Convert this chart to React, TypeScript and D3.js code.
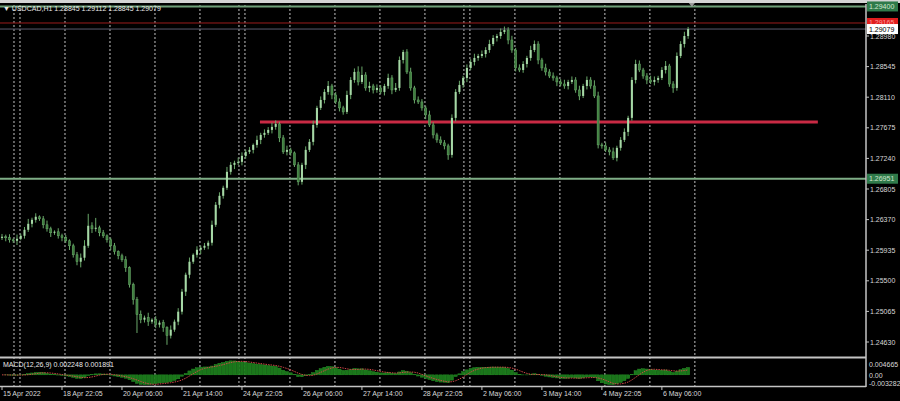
import React from "react";
import * as d3 from "d3";

// ---- data (USDCAD, bars sampled every 2 hours) ----
const closes = [
  1.26126, 1.26112, 1.26083, 1.26069, 1.26097, 1.2614, 1.26225, 1.2631, 1.26367, 1.2641,
  1.26381, 1.26296, 1.26239, 1.26183, 1.26197, 1.2614, 1.26112, 1.26069, 1.25998, 1.2587,
  1.25771, 1.25828, 1.25998, 1.26282, 1.26239, 1.26254, 1.26183, 1.2614, 1.26083, 1.25998,
  1.25913, 1.25856, 1.25799, 1.25686, 1.25444, 1.25231, 1.25018, 1.24947, 1.24976, 1.24919,
  1.24947, 1.24876, 1.24905, 1.24834, 1.2472, 1.24805, 1.24919, 1.25061, 1.25345, 1.25586,
  1.25771, 1.2587, 1.25941, 1.2597, 1.25998, 1.26041, 1.26296, 1.2658, 1.26708, 1.26822,
  1.27049, 1.27148, 1.27177, 1.27191, 1.27276, 1.27333, 1.27361, 1.27432, 1.27503, 1.27574,
  1.27603, 1.27645, 1.27688, 1.2773, 1.27532, 1.27333, 1.27361, 1.27319, 1.27148, 1.26907,
  1.27148, 1.27361, 1.27475, 1.27716, 1.27958, 1.28071, 1.28185, 1.2827, 1.28142, 1.28043,
  1.27958, 1.27901, 1.28142, 1.28355, 1.28469, 1.28327, 1.28426, 1.28242, 1.2827, 1.28213,
  1.28242, 1.28185, 1.2827, 1.28384, 1.28213, 1.28242, 1.28639, 1.28753, 1.28469, 1.28242,
  1.28071, 1.28043, 1.27958, 1.27858, 1.27716, 1.27574, 1.27503, 1.27461, 1.27418, 1.2729,
  1.27816, 1.28185, 1.28284, 1.28384, 1.28526, 1.28611, 1.28668, 1.28696, 1.28724, 1.28781,
  1.28866, 1.28952, 1.2898, 1.29037, 1.29065, 1.28923, 1.28781, 1.28526, 1.28497, 1.28582,
  1.28668, 1.28781, 1.28866, 1.28639, 1.28526, 1.28469, 1.28412, 1.28384, 1.28327, 1.28298,
  1.2827, 1.28327, 1.28355, 1.28213, 1.28128, 1.2827, 1.28355, 1.2827, 1.28128, 1.27432,
  1.27418, 1.27361, 1.27333, 1.27248, 1.2739, 1.27503, 1.27617, 1.27816, 1.28355, 1.28582,
  1.28497, 1.28412, 1.28355, 1.28327, 1.28355, 1.28384, 1.28497, 1.28554, 1.28298, 1.28242,
  1.28696, 1.28866, 1.2898, 1.29079,
];
const firstOpen = 1.2611;
// upper / lower wick lengths in pips
const upWick = [
  4, 3, 5, 2, 6, 3, 4, 7, 3, 5, 2, 4, 6, 3, 2, 5, 3, 4, 2, 3,
  4, 6, 8, 17, 5, 14, 3, 4, 2, 3, 4, 2, 3, 5, 2, 3, 4, 6, 3, 7,
  2, 5, 3, 4, 2, 6, 3, 5, 4, 3, 6, 2, 5, 3, 4, 3, 6, 4, 5, 3,
  7, 4, 3, 6, 5, 3, 4, 2, 6, 3, 5, 4, 6, 5, 3, 4, 6, 3, 2, 4,
  3, 5, 4, 6, 3, 5, 4, 7, 3, 4, 5, 3, 6, 4, 5, 8, 12, 4, 6, 3,
  5, 4, 3, 6, 4, 7, 5, 3, 4, 6, 3, 5, 4, 3, 6, 4, 3, 5, 4, 3,
  5, 4, 6, 3, 5, 4, 6, 3, 5, 4, 6, 4, 3, 5, 5, 4, 6, 3, 5, 4,
  3, 6, 5, 4, 3, 6, 4, 5, 3, 4, 6, 3, 5, 4, 6, 3, 5, 4, 8, 6,
  3, 5, 4, 6, 3, 4, 5, 3, 4, 6, 5, 3, 4, 6, 5, 3, 4, 7, 3, 4,
  5, 4, 6, 3,
];
const downWick = [
  3, 5, 4, 3, 6, 2, 4, 3, 5, 4, 3, 5, 4, 6, 3, 4, 5, 3, 6, 4,
  5, 8, 4, 3, 6, 4, 5, 3, 4, 6, 4, 5, 3, 6, 4, 7, 26, 5, 4, 6,
  3, 5, 4, 6, 13, 4, 3, 5, 4, 6, 5, 3, 4, 6, 3, 5, 4, 3, 5, 4,
  3, 4, 6, 3, 5, 4, 3, 5, 4, 6, 4, 3, 5, 4, 6, 3, 5, 4, 3, 5,
  4, 6, 3, 5, 4, 3, 5, 4, 6, 3, 5, 4, 3, 6, 4, 5, 3, 4, 6, 5,
  4, 3, 5, 4, 6, 3, 4, 5, 3, 4, 5, 3, 4, 6, 3, 5, 4, 3, 5, 7,
  4, 5, 3, 4, 6, 3, 5, 4, 3, 5, 4, 3, 5, 4, 3, 6, 4, 5, 3, 4,
  5, 4, 3, 6, 4, 5, 3, 4, 6, 3, 4, 5, 3, 4, 6, 3, 5, 4, 3, 5,
  4, 3, 5, 3, 5, 4, 3, 6, 4, 5, 3, 4, 6, 3, 5, 4, 3, 5, 4, 7,
  4, 3, 5, 4,
];
const HOURS_PER_BAR = 2;

const priceTicks = [1.2898, 1.28545, 1.2811, 1.27675, 1.2724, 1.26805, 1.2637, 1.25935, 1.255, 1.25065, 1.2463];
const timeLabels = [
  "15 Apr 2022", "18 Apr 22:05", "20 Apr 06:00", "21 Apr 14:00", "24 Apr 22:05", "26 Apr 06:00",
  "27 Apr 14:00", "28 Apr 22:05", "2 May 06:00", "3 May 14:00", "4 May 22:05", "6 May 06:00",
];
const LABEL_STEP_HOURS = 32;
const gridHours = [9.6, 33.6, 57.6, 81.6, 105.6, 129.6, 153.6, 177.6, 201.6, 225.6, 249.6, 273.6, 297.6, 321.6, 345.6, 369.6];
const weekSeparatorHours = [6.4, 126.4, 246.4];

const levelTop = 1.294;
const levelRed = 1.29165;
const levelBid = 1.29079;
const levelBase = 1.26951;
const supportLevel = 1.27757;
const supportHours = [137.6, 435.2];

const macdTicks = [0.004665, 0, -0.003282];
const titleText = "USDCAD,H1  1.28845 1.29112 1.28845 1.29079";
const macdTitle = "MACD(12,26,9) 0.002248 0.001891";

const FONT = "'Liberation Sans', Arial, sans-serif";

export default function App() {
  const W = 900, H = 401;
  const plotRight = 866;
  const mainTop = 5, mainBottom = 357;
  const macdTop = 359, macdBottom = 386;

  const x = d3.scaleLinear().domain([0, 367]).range([2, 690]);
  const y = d3.scaleLinear().domain([1.2463, 1.2898]).range([342, 36]);
  const ym = d3.scaleLinear().domain([-0.003282, 0.004665]).range([macdBottom, macdTop]);

  const bars = closes.map((c, i) => {
    const o = i === 0 ? firstOpen : closes[i - 1];
    const hi = Math.max(o, c) + (upWick[i] ?? 3) * 0.0001;
    const lo = Math.min(o, c) - (downWick[i] ?? 3) * 0.0001;
    return { h: i * HOURS_PER_BAR, o, hi, lo, c };
  });

  // MACD(12,26,9) on hourly basis, applied to 2-hour bars
  const aFast = 1 - Math.pow(1 - 2 / 13, HOURS_PER_BAR);
  const aSlow = 1 - Math.pow(1 - 2 / 27, HOURS_PER_BAR);
  let ef = closes[0], es = closes[0];
  const macd = closes.map((c) => {
    ef = ef + aFast * (c - ef);
    es = es + aSlow * (c - es);
    return ef - es;
  });
  const sigN = 5;
  const signal = macd.map((_, i) => {
    const s = macd.slice(Math.max(0, i - sigN + 1), i + 1);
    return d3.mean(s) as number;
  });
  const sigLine = d3.line<number>().x((_, i) => x(i * HOURS_PER_BAR)).y((v) => ym(v));

  const bw = (x(HOURS_PER_BAR) - x(0)) * 0.55;

  const axisText = { fontFamily: FONT, fontSize: 7, fill: "#d8d8d8" } as const;

  const labelBox = (v: number, fill: string, textFill: string, txt: string) => (
    <g key={"lb" + v}>
      <rect x={plotRight + 1} y={y(v) - 5} width={31} height={10} fill={fill} />
      <text x={plotRight + 3} y={y(v) + 2.5} {...axisText} fill={textFill}>{txt}</text>
    </g>
  );

  return (
    <svg width={W} height={H} style={{ position: "fixed", left: 0, top: 0, display: "block", background: "#000" }}>
      <defs>
        <clipPath id="mainClip"><rect x={0} y={mainTop} width={plotRight} height={mainBottom - mainTop} /></clipPath>
        <clipPath id="macdClip"><rect x={0} y={macdTop - 1} width={plotRight} height={macdBottom - macdTop + 1} /></clipPath>
      </defs>
      <rect x={0} y={0} width={W} height={H} fill="#000" />
      <rect x={0} y={0} width={W} height={3} fill="#d4d4d4" />

      {/* vertical grid */}
      {[...gridHours, ...weekSeparatorHours].map((h, i) => (
        <line key={"g" + i} x1={x(h)} x2={x(h)} y1={mainTop} y2={macdBottom} stroke="#d8d8d8" strokeWidth={1} strokeDasharray="2,2" opacity={0.9} />
      ))}

      {/* horizontal levels */}
      <line x1={0} x2={plotRight} y1={y(levelRed)} y2={y(levelRed)} stroke="#9a1c1c" strokeWidth={1} />
      <line x1={0} x2={plotRight} y1={y(levelBid)} y2={y(levelBid)} stroke="#5a5a6e" strokeWidth={1} />
      <line x1={0} x2={plotRight} y1={y(levelBase)} y2={y(levelBase)} stroke="#7fae86" strokeWidth={2} />
      <line x1={x(supportHours[0])} x2={x(supportHours[1])} y1={y(supportLevel)} y2={y(supportLevel)} stroke="#c92a44" strokeWidth={3} />

      {/* candles */}
      <g clipPath="url(#mainClip)">
        {bars.map((b, i) => {
          const cx = x(b.h);
          const up = b.c >= b.o;
          const top = y(Math.max(b.o, b.c));
          const bot = y(Math.min(b.o, b.c));
          return (
            <g key={"b" + i}>
              <line x1={cx} x2={cx} y1={y(b.hi)} y2={y(b.lo)} stroke="#6aa86a" strokeWidth={1} />
              <rect x={cx - bw / 2} y={top} width={bw} height={Math.max(1, bot - top)} fill={up ? "#a6d8a6" : "#3f7f3f"} stroke={up ? "none" : "#6aa86a"} strokeWidth={0.5} />
            </g>
          );
        })}
      </g>

      <line x1={0} x2={plotRight} y1={y(levelTop)} y2={y(levelTop)} stroke="#6f9f78" strokeWidth={2} />

      {/* MACD */}
      <g clipPath="url(#macdClip)">
        {macd.map((v, i) => {
          const y0 = ym(0), y1 = ym(v);
          return (
            <rect key={"m" + i} x={x(i * HOURS_PER_BAR) - 1.6} y={Math.min(y0, y1)} width={3.2} height={Math.abs(y1 - y0)} fill="#1a761a" stroke="#2a9a2a" strokeWidth={0.4} />
          );
        })}
        <path d={sigLine(signal) || ""} fill="none" stroke="#d04848" strokeWidth={1} strokeDasharray="1.5,1" />
      </g>

      {/* frame */}
      <line x1={plotRight} x2={plotRight} y1={mainTop - 1} y2={macdBottom + 1} stroke="#c4c4c4" strokeWidth={1.5} />
      <line x1={0} x2={plotRight} y1={mainBottom + 0.5} y2={mainBottom + 0.5} stroke="#c4c4c4" strokeWidth={2} />
      <line x1={0} x2={plotRight} y1={macdBottom + 0.5} y2={macdBottom + 0.5} stroke="#c4c4c4" strokeWidth={1.5} />
      <path d={`M${x(368) - 3},3 L${x(368) + 3},3 L${x(368)},7 Z`} fill="#9a9a9a" />

      {/* price axis */}
      {priceTicks.map((p) => (
        <g key={"pt" + p}>
          <line x1={plotRight} x2={plotRight + 3} y1={y(p)} y2={y(p)} stroke="#c4c4c4" />
          <text x={plotRight + 4} y={y(p) + 2.5} {...axisText}>{p.toFixed(5)}</text>
        </g>
      ))}
      {labelBox(levelTop, "#2f7a4a", "#cfe8cf", levelTop.toFixed(5))}
      {labelBox(levelRed, "#e01e1e", "#ff9a9a", levelRed.toFixed(5))}
      {labelBox(levelBid, "#ffffff", "#000000", levelBid.toFixed(5))}
      {labelBox(levelBase, "#2f7a4a", "#cfe8cf", levelBase.toFixed(5))}

      {/* MACD axis */}
      <text x={plotRight + 3} y={ym(macdTicks[0]) + 8} {...axisText}>{macdTicks[0].toFixed(6)}</text>
      <text x={plotRight + 3} y={ym(macdTicks[1]) + 3} {...axisText}>0.00</text>
      <text x={plotRight + 3} y={ym(macdTicks[2]) - 0.5} {...axisText}>{macdTicks[2].toFixed(6)}</text>

      {/* time axis */}
      {timeLabels.map((t, k) => (
        <g key={"t" + k}>
          <line x1={x(k * LABEL_STEP_HOURS)} x2={x(k * LABEL_STEP_HOURS)} y1={macdBottom + 1} y2={macdBottom + 4} stroke="#c4c4c4" />
          <text x={x(k * LABEL_STEP_HOURS) + 1} y={396} {...axisText}>{t}</text>
        </g>
      ))}

      {/* titles */}
      <text x={3} y={11} {...axisText} fill="#e8e8e8">{"\u25BC " + titleText}</text>
      <text x={3} y={367} {...axisText} fill="#e8e8e8">{macdTitle}</text>
    </svg>
  );
}
